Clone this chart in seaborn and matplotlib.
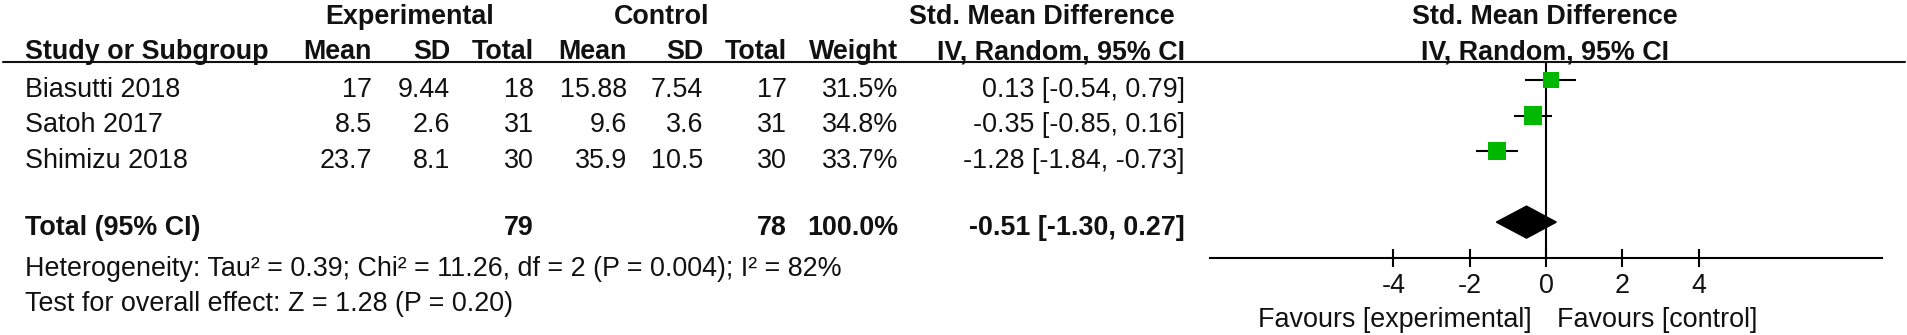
import numpy as np
import pandas as pd
import seaborn as sns
import matplotlib
matplotlib.use("Agg")
import matplotlib.pyplot as plt

# datos del forest plot
studies = ["Biasutti 2018", "Satoh 2017", "Shimizu 2018"]
exp_mean = [17, 8.5, 23.7]
exp_sd = [9.44, 2.6, 8.1]
exp_n = [18, 31, 30]
ctl_mean = [15.88, 9.6, 35.9]
ctl_sd = [7.54, 3.6, 10.5]
ctl_n = [17, 31, 30]
weight = [31.5, 34.8, 33.7]
smd = [0.13, -0.35, -1.28]
ci_lo = [-0.54, -0.85, -1.84]
ci_hi = [0.79, 0.16, -0.73]
total_smd, total_lo, total_hi = -0.51, -1.30, 0.27
heterogeneity = "Heterogeneity: Tau² = 0.39; Chi² = 11.26, df = 2 (P = 0.004); I² = 82%"
overall = "Test for overall effect: Z = 1.28 (P = 0.20)"
ticks = [-4, -2, 0, 2, 4]

sns.set_style("white")
plt.rcParams['font.family'] = ['Liberation Sans', 'DejaVu Sans']
plt.rcParams['axes.unicode_minus'] = False
txt = '#111111'
green = '#00b800'
fs = 19.4

df = pd.DataFrame({"study": studies, "smd": smd, "lo": ci_lo, "hi": ci_hi,
                   "weight": weight, "row": np.arange(len(studies))})
total_row = len(studies) + 1

fig = plt.figure(figsize=(19.08, 3.35), dpi=100)

# tabla en coordenadas de pixel
tab = fig.add_axes([0, 0, 1, 1])
tab.set_xlim(0, 1908)
tab.set_ylim(335, 0)
tab.axis('off')
tab.set_facecolor('none')

def t(x, y, s, ha='right', bold=False):
    tab.text(x, y, s, ha=ha, va='baseline', fontsize=fs, color=txt,
             fontweight='bold' if bold else 'normal')

# encabezados
t(410, 24, "Experimental", ha='center', bold=True)
t(662, 24, "Control", ha='center', bold=True)
t(1042, 24, "Std. Mean Difference", ha='center', bold=True)
t(1545, 24, "Std. Mean Difference", ha='center', bold=True)
t(25, 59, "Study or Subgroup", ha='left', bold=True)
cols = [372, 450, 534, 627, 703, 787, 898]
for x, h in zip(cols, ["Mean", "SD", "Total", "Mean", "SD", "Total", "Weight"]):
    t(x, 59, h, bold=True)
t(1185, 59, "IV, Random, 95% CI", bold=True)
t(1545, 59, "IV, Random, 95% CI", ha='center', bold=True)
tab.plot([3, 1905], [62, 62], color=txt, lw=1.5)

# filas de estudios
for i in range(len(studies)):
    y = 97 + 35.5 * i
    t(25, y, studies[i], ha='left')
    vals = [f"{exp_mean[i]:g}", f"{exp_sd[i]:g}", str(exp_n[i]),
            f"{ctl_mean[i]:g}", f"{ctl_sd[i]:g}", str(ctl_n[i]), f"{weight[i]:.1f}%"]
    for x, v in zip(cols, vals):
        t(x, y, v)
    t(1185, y, f"{smd[i]:.2f} [{ci_lo[i]:.2f}, {ci_hi[i]:.2f}]")

# total
t(25, 235, "Total (95% CI)", ha='left', bold=True)
t(cols[2], 235, str(sum(exp_n)), bold=True)
t(cols[5], 235, str(sum(ctl_n)), bold=True)
t(cols[6], 235, "100.0%", bold=True)
t(1185, 235, f"{total_smd:.2f} [{total_lo:.2f}, {total_hi:.2f}]", bold=True)
t(25, 276, heterogeneity, ha='left')
t(25, 311, overall, ha='left')
t(1532, 327, "Favours [experimental]")
t(1557, 327, "Favours [control]", ha='left')

# forest plot
ax = fig.add_axes([1210 / 1908, 77 / 335, 672 / 1908, 196 / 335])
ax.set_facecolor('none')
ax.axvline(0, color='black', lw=1.5, zorder=1)
ax.hlines(df["row"], df["lo"], df["hi"], color='black', lw=1.5, zorder=2)
side = (df["weight"] * 0.52 * 0.72) ** 2
sns.scatterplot(data=df, x="smd", y="row", marker='s', s=side, color=green,
                linewidth=0, ax=ax, zorder=3, legend=False)
h = 0.45
ax.fill([total_lo, total_smd, total_hi, total_smd],
        [total_row, total_row - h, total_row, total_row + h], color='black', zorder=3)

ax.set_xlim(-8.8, 8.8)
ax.set_ylim(5.01, -0.507)
ax.set_xticks(ticks)
ax.set_xticklabels([str(v) for v in ticks], fontsize=fs, color=txt)
ax.set_yticks([])
ax.set_xlabel("")
ax.set_ylabel("")
for s in ['top', 'left', 'right']:
    ax.spines[s].set_visible(False)
ax.spines['bottom'].set_linewidth(1.5)
ax.spines['bottom'].set_color('black')
ax.tick_params(axis='x', bottom=True, direction='inout', length=13, width=1.5,
               pad=4, color='black')

fig.savefig("out.png", dpi=100)
